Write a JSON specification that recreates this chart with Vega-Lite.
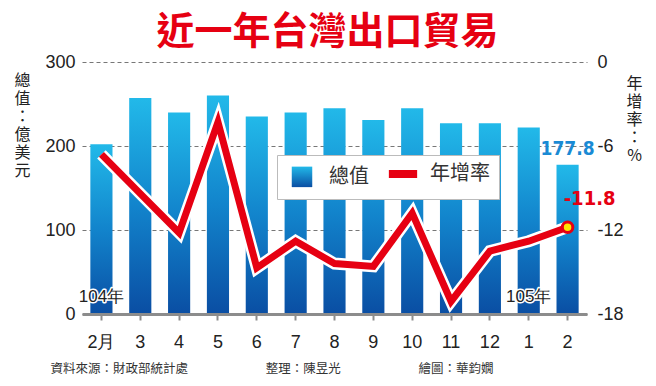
{
  "$schema": "https://vega.github.io/schema/vega-lite/v6.json",
  "width": 505,
  "height": 252,
  "autosize": {"type": "none"},
  "padding": {"left": 82, "top": 62, "right": 69, "bottom": 72},
  "background": "white",
  "config": {
    "view": {"stroke": null},
    "font": "Noto Sans CJK TC",
    "axis": {"labelFont": "Liberation Sans", "titleFont": "Noto Sans CJK TC"}
  },
  "title": {
    "text": "近一年台灣出口貿易",
    "font": "Noto Sans CJK TC",
    "fontSize": 38,
    "fontWeight": "bold",
    "color": "#e60012",
    "anchor": "middle",
    "frame": "group",
    "dx": -7,
    "offset": 1
  },
  "data": {
    "values": [
      {"m": "2月", "value": 202, "rate": -6.6, "tag": "104年"},
      {"m": "3", "value": 257, "rate": -9.4},
      {"m": "4", "value": 240, "rate": -12.2},
      {"m": "5", "value": 260, "rate": -4.3},
      {"m": "6", "value": 235, "rate": -14.7},
      {"m": "7", "value": 240, "rate": -12.8},
      {"m": "8", "value": 245, "rate": -14.4},
      {"m": "9", "value": 231, "rate": -14.6},
      {"m": "10", "value": 245, "rate": -10.8},
      {"m": "11", "value": 227, "rate": -17.1},
      {"m": "12", "value": 227, "rate": -13.5},
      {"m": "1", "value": 222, "rate": -12.8, "tag": "105年"},
      {"m": "2", "value": 177.8, "rate": -11.8, "valueLabel": "177.8", "rateLabel": "-11.8"}
    ]
  },
  "encoding": {
    "x": {
      "field": "m",
      "type": "nominal",
      "sort": null,
      "scale": {"type": "band", "paddingInner": 0.43, "paddingOuter": 0.215},
      "axis": {
        "orient": "bottom",
        "zindex": 1,
        "labelAngle": 0,
        "labelFontSize": 18,
        "labelColor": "#222",
        "labelPadding": 13,
        "domainColor": "#8c8c8c",
        "domainWidth": 3,
        "tickColor": "#8c8c8c",
        "tickWidth": 2,
        "tickSize": 6,
        "title": "資料來源：財政部統計處　　　　　　 整理：陳昱光　　　　　　 繪圖：華鈞嫺",
        "titleFontSize": 12.5,
        "titleFontWeight": "normal",
        "titleColor": "#333",
        "titleAnchor": "start",
        "titleAlign": "left",
        "titleBaseline": "top",
        "titleX": -32,
        "titleY": 48
      }
    }
  },
  "layer": [
    {
      "encoding": {
        "y": {
          "field": "value",
          "type": "quantitative",
          "scale": {"domain": [0, 300]},
          "axis": {
            "orient": "left",
            "values": [0, 100, 200, 300],
            "grid": true,
            "gridDash": [4, 3],
            "gridColor": "#777",
            "gridWidth": 1,
            "domain": false,
            "ticks": false,
            "labelFontSize": 18,
            "labelColor": "#222",
            "labelPadding": 7,
            "title": ["總", "值", "：", "億", "美", "元"],
            "titleAngle": 0,
            "titleAlign": "center",
            "titleBaseline": "top",
            "titleFontSize": 16,
            "titleFontWeight": "normal",
            "titleColor": "#222",
            "titleLineHeight": 18,
            "titleX": -60,
            "titleY": 10
          }
        }
      },
      "layer": [
        {
          "mark": {
            "type": "bar",
            "color": {
              "gradient": "linear",
              "x1": 0, "y1": 0, "x2": 0, "y2": 1,
              "stops": [
                {"offset": 0, "color": "#22b9e9"},
                {"offset": 0.5, "color": "#1284cc"},
                {"offset": 1, "color": "#0a4ea3"}
              ]
            }
          }
        },
        {
          "transform": [{"filter": "datum.valueLabel != null"}],
          "mark": {
            "type": "text",
            "font": "Liberation Sans Narrow, DejaVu Sans Condensed, sans-serif",
            "fontWeight": "bold",
            "fontSize": 19,
            "color": "#1a8ad4",
            "dy": -16,
            "baseline": "middle"
          },
          "encoding": {"text": {"field": "valueLabel"}}
        },
        {
          "transform": [{"filter": "datum.tag != null"}],
          "mark": {
            "type": "text",
            "font": "Liberation Sans",
            "fontSize": 17,
            "color": "white",
            "stroke": "white",
            "strokeWidth": 3,
            "strokeJoin": "round",
            "dy": -17,
            "baseline": "middle"
          },
          "encoding": {"text": {"field": "tag"}, "y": {"datum": 0, "type": "quantitative"}}
        },
        {
          "transform": [{"filter": "datum.tag != null"}],
          "mark": {
            "type": "text",
            "font": "Liberation Sans",
            "fontSize": 17,
            "color": "#222",
            "dy": -17,
            "baseline": "middle"
          },
          "encoding": {"text": {"field": "tag"}, "y": {"datum": 0, "type": "quantitative"}}
        }
      ]
    },
    {
      "encoding": {
        "y": {
          "field": "rate",
          "type": "quantitative",
          "scale": {"domain": [-18, 0]},
          "axis": {
            "orient": "right",
            "values": [-18, -12, -6, 0],
            "labelExpr": "datum.value + ''",
            "grid": false,
            "domain": false,
            "ticks": false,
            "labelFontSize": 18,
            "labelColor": "#222",
            "labelPadding": 10,
            "title": ["年", "增", "率", "：", "%"],
            "titleAngle": 0,
            "titleAlign": "center",
            "titleBaseline": "top",
            "titleFontSize": 16,
            "titleFontWeight": "normal",
            "titleColor": "#222",
            "titleLineHeight": 18,
            "titleX": 47,
            "titleY": 13
          }
        }
      },
      "layer": [
        {
          "mark": {"type": "line", "color": "white", "strokeWidth": 12, "strokeJoin": "miter"}
        },
        {
          "mark": {"type": "line", "strokeWidth": 7, "strokeJoin": "miter"},
          "encoding": {
            "color": {
              "datum": "年增率",
              "type": "nominal",
              "scale": {"domain": ["總值", "年增率"], "range": ["#1a8fd4", "#e60012"]},
              "legend": {
                "title": null,
                "orient": "none",
                "legendX": 195,
                "legendY": 93,
                "direction": "horizontal",
                "fillColor": "white",
                "strokeColor": "#bbb",
                "padding": 9,
                "labelFont": "Noto Sans CJK TC",
                "labelFontSize": 20,
                "labelColor": "#333",
                "labelOffset": 17,
                "labelExpr": "datum.label === '年增率' ? datum.label + '    ' : datum.label",
                "columnPadding": 3,
                "symbolOffset": 6,
                "symbolSize": 600,
                "symbolStrokeWidth": 8,
                "encoding": {
                  "symbols": {
                    "shape": {"value": {"expr": "datum.value === '總值' ? 'square' : 'stroke'"}},
                    "size": {"value": {"expr": "datum.value === '總值' ? 420 : 800"}},
                    "fill": {"value": {"expr": "datum.value === '總值' ? {gradient: 'linear', x1: 0, y1: 0, x2: 0, y2: 1, stops: [{offset: 0, color: '#22b9e9'}, {offset: 1, color: '#0a4ea3'}]} : 'transparent'"}},
                    "stroke": {"value": {"expr": "datum.value === '總值' ? 'transparent' : '#e60012'"}},
                    "strokeWidth": {"value": {"expr": "datum.value === '總值' ? 0 : 8"}},
                    "opacity": {"value": 1}
                  }
                }
              }
            }
          }
        },
        {
          "transform": [{"filter": "datum.rateLabel != null"}],
          "mark": {"type": "point", "filled": true, "fill": "#ffe500", "stroke": "#e60012", "strokeWidth": 3, "size": 110, "opacity": 1}
        },
        {
          "transform": [{"filter": "datum.rateLabel != null"}],
          "mark": {
            "type": "text",
            "font": "Liberation Sans Narrow, DejaVu Sans Condensed, sans-serif",
            "fontWeight": "bold",
            "fontSize": 20,
            "color": "#e60012",
            "dx": 22,
            "dy": -28,
            "baseline": "middle"
          },
          "encoding": {"text": {"field": "rateLabel"}}
        }
      ]
    }
  ],
  "resolve": {"scale": {"y": "independent"}}
}
